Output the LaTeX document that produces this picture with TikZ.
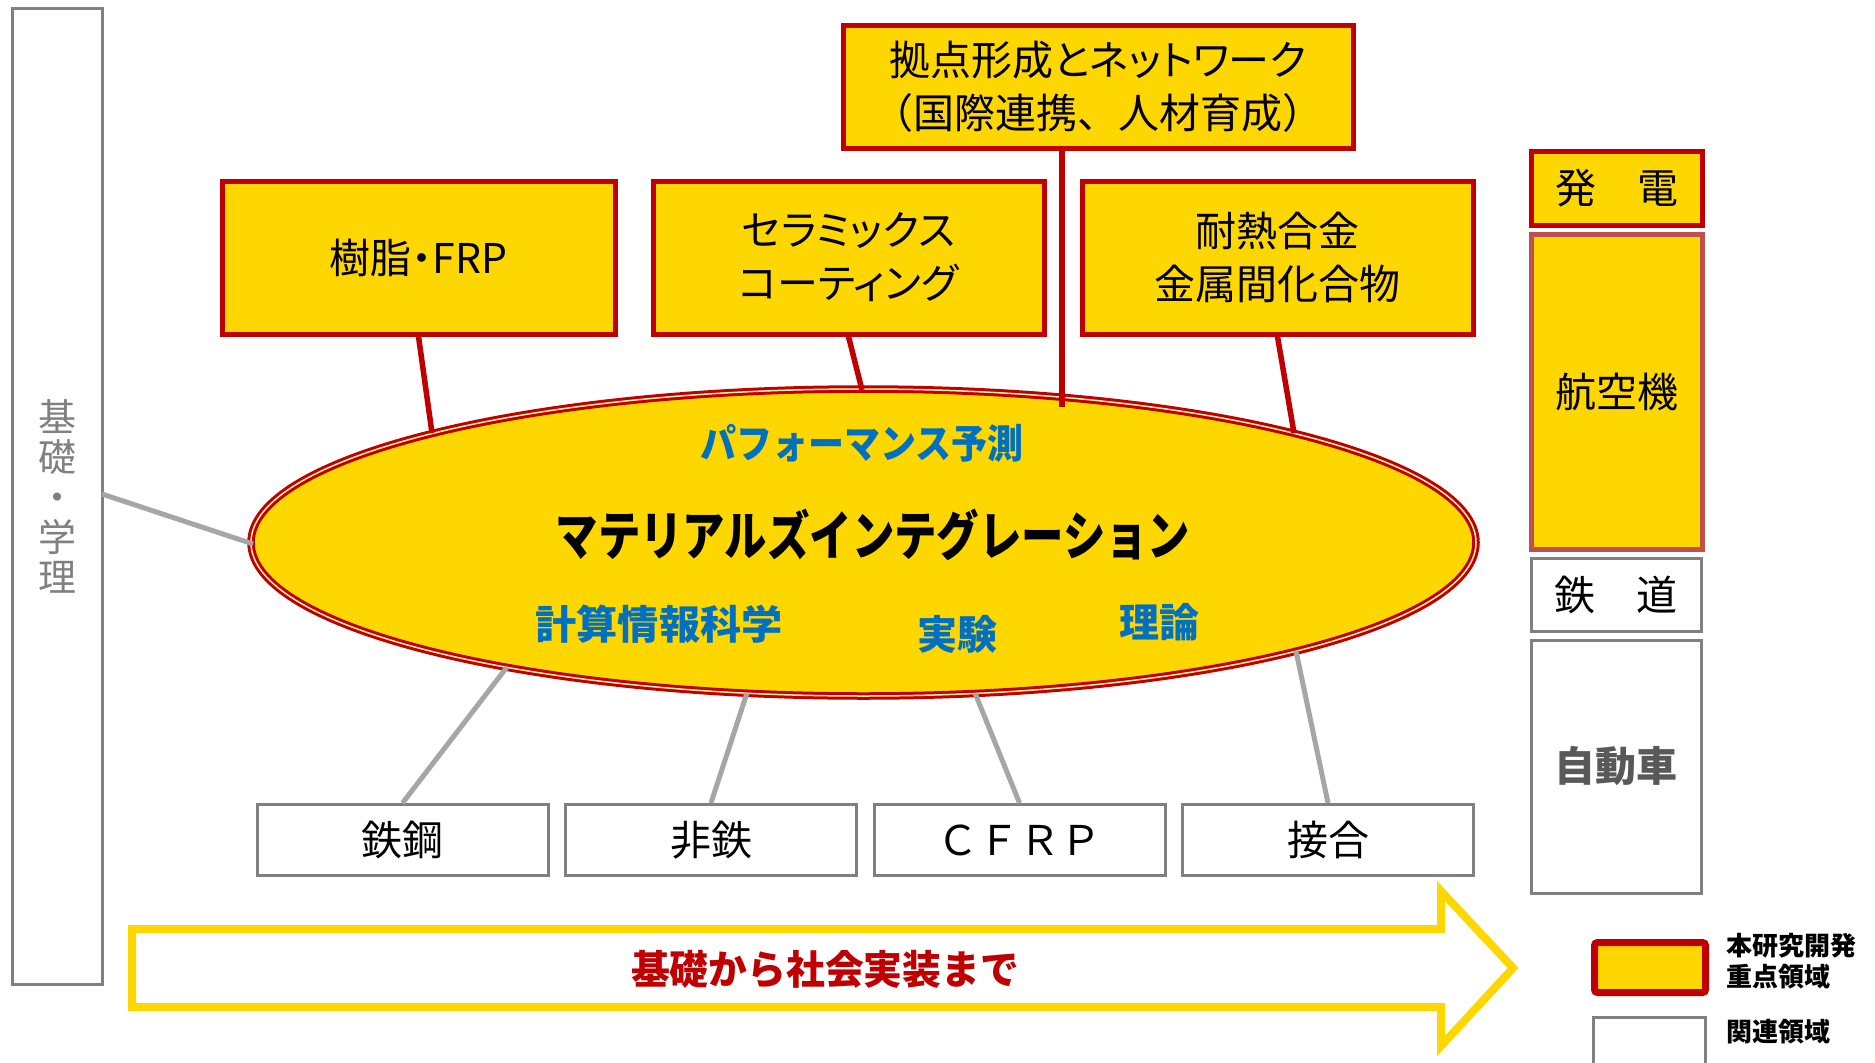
\documentclass[tikz,border=0pt]{standalone}
\usepackage{fontspec}
\usepackage{graphicx}
\setmainfont{Noto Sans CJK JP}
\newfontfamily\jpp{Noto Sans CJK JP}[RawFeature=+palt]
\usetikzlibrary{shapes.geometric}
\definecolor{myyel}{HTML}{FFD700}
\definecolor{myred}{HTML}{C00000}
\definecolor{lred}{HTML}{C0504D}
\definecolor{bgray}{HTML}{808080}
\definecolor{lgray}{HTML}{A6A6A6}
\definecolor{dgray}{HTML}{595959}
\definecolor{myblue}{HTML}{0070C0}
\tikzset{
  keybox/.style={draw=myred, line width=5pt, fill=myyel, inner sep=0pt, align=center,
    font=\jpp\fontsize{41}{53}\selectfont},
  relbox/.style={draw=bgray, line width=3pt, fill=white, inner sep=0pt, align=center,
    font=\fontsize{41}{52}\selectfont},
  redline/.style={draw=myred, line width=5.5pt},
  grayline/.style={draw=lgray, line width=5pt},
  bluetxt/.style={text=myblue, inner sep=0pt, font=\bfseries\fontsize{40}{40}\selectfont},
  legtxt/.style={inner sep=0pt, anchor=west, align=left, font=\bfseries\fontsize{26}{31}\selectfont},
}
\begin{document}
\begin{tikzpicture}[x=1pt,y=-1pt]
\useasboundingbox (0,0) rectangle (1875,1063);
\fill[white] (0,0) rectangle (1875,1063);

% left column
\node[draw=bgray, line width=3pt, fill=white, minimum width=90, minimum height=976, inner sep=0pt,
  align=center, text=bgray, font=\fontsize{38}{40}\selectfont] (basic) at (57,496) {基\\礎\\・\\学\\理};

% arrow
\draw[draw=myyel, line width=8pt, fill=white, line join=miter]
  (132,929) -- (1441,929) -- (1441,891) -- (1513,968) -- (1441,1046) -- (1441,1007) -- (132,1007) -- cycle;
\node[inner sep=0pt, text=myred, font=\bfseries\fontsize{40}{40}\selectfont] (arrowtxt) at (825,969)
  {\scalebox{0.97}[1]{基礎から社会実装まで}};

% key boxes
\node[keybox, minimum width=510, minimum height=123] (hub) at (1098,86.5)
  {拠点形成とネットワーク\\{\fontspec{Noto Sans CJK JP}（国際連携、人材育成）}};
\node[keybox, minimum width=393, minimum height=153] (resin) at (418.5,257.5) {樹脂・FRP};
\node[keybox, minimum width=391, minimum height=153] (ceram) at (848.5,257.5) {セラミックス\\コーティング};
\node[keybox, minimum width=391, minimum height=153] (heat) at (1277.5,257.5) {耐熱合金\\金属間化合物};

% related boxes (bottom)
\node[relbox, minimum width=291, minimum height=71] (steel) at (402.5,840) {鉄鋼};
\node[relbox, minimum width=291, minimum height=71] (nonfe) at (711,840) {非鉄};
\node[relbox, minimum width=291, minimum height=71] (cfrp) at (1019.5,840) {ＣＦＲＰ};
\node[relbox, minimum width=291, minimum height=71] (join) at (1328,840) {接合};

% right column
\node[keybox, minimum width=171, minimum height=74] (power) at (1616.5,188) {発　電};
\node[keybox, draw=lred, minimum width=171, minimum height=315] (air) at (1616.5,391.5) {航空機};
\node[relbox, minimum width=170, minimum height=73] (rail) at (1616,594.5) {鉄　道};
\node[relbox, minimum width=170, minimum height=253, text=dgray, font=\bfseries\fontsize{41}{41}\selectfont] (car) at (1616,766.5) {自動車};

% central ellipse
\node[ellipse, fill=myyel, draw=myred, line width=3pt, double=myyel!35!white, double distance=1.5pt,
  minimum width=1225, minimum height=307, inner sep=0pt] (mi) at (863.5,542.5) {};
\node[inner sep=0pt, font=\bfseries\fontsize{53}{53}\selectfont] (title) at (873,535)
  {\scalebox{0.8}[1]{マテリアルズインテグレーション}};
\node[bluetxt] (perf) at (862,443) {\scalebox{0.9}[1]{パフォーマンス予測}};
\node[bluetxt] (comp) at (659,624) {\scalebox{1.03}[1]{計算情報科学}};
\node[bluetxt] (exp) at (957,634) {実験};
\node[bluetxt] (theo) at (1159,622) {理論};

% connector end points on the ellipse
\coordinate (hubfoot) at (1062,148);
\coordinate (e1) at (432,433);
\coordinate (e2) at (862,390);
\coordinate (e3) at (1062,407);
\coordinate (e4) at (1294,433);
\coordinate (e5) at (507,667);
\coordinate (e6) at (747,693);
\coordinate (e7) at (975,693);
\coordinate (e8) at (1296,651);
\coordinate (e9) at (253,544);
\coordinate (b0) at (102,494);

% red connectors
\draw[redline] (resin.south) -- (e1);
\draw[redline] (ceram.south) -- (e2);
\draw[redline] (hubfoot) -- (e3);
\draw[redline] (heat.south) -- (e4);

% gray connectors
\draw[grayline] (steel.north) -- (e5);
\draw[grayline] (nonfe.north) -- (e6);
\draw[grayline] (cfrp.north) -- (e7);
\draw[grayline] (join.north) -- (e8);
\draw[grayline] (b0) -- (e9);

% legend
\node[draw=myred, line width=7pt, fill=myyel, rounded corners=3pt, minimum width=111, minimum height=50,
  inner sep=0pt] (legkey) at (1650,967.5) {};
\draw[bgray, line width=3pt] (1593,1063) -- (1593,1017) -- (1705,1017) -- (1705,1063);
\node[legtxt] (legkeytxt) at (1726,961.5) {本研究開発\\重点領域};
\node[legtxt] (legreltxt) at (1726,1032) {関連領域};
\end{tikzpicture}
\end{document}
